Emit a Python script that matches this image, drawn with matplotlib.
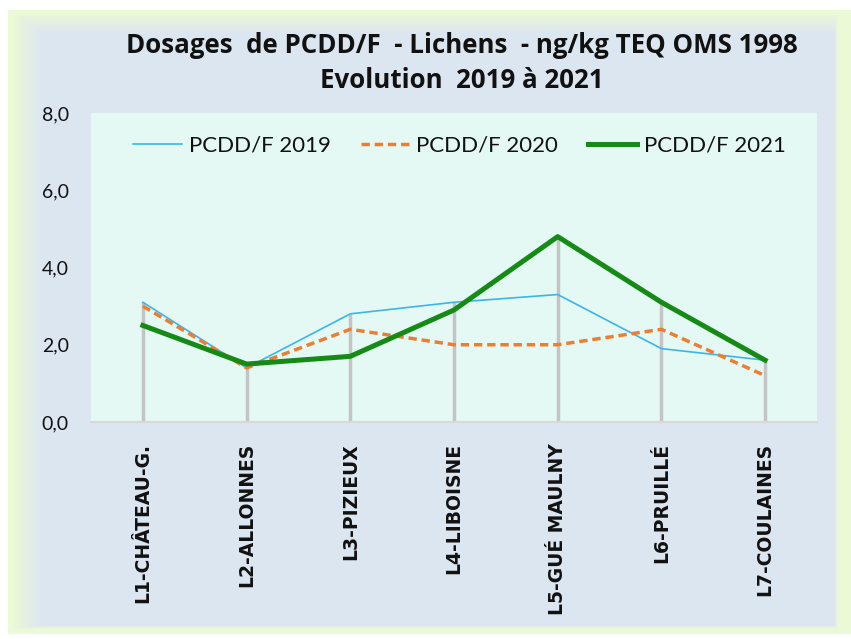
import numpy as np
import matplotlib
matplotlib.use("Agg")
import matplotlib.pyplot as plt
from matplotlib.ticker import FuncFormatter

categories = ["L1-CHÂTEAU-G.", "L2-ALLONNES", "L3-PIZIEUX", "L4-LIBOISNE",
              "L5-GUÉ MAULNY", "L6-PRUILLÉ", "L7-COULAINES"]
pcdd_2019 = [3.1, 1.4, 2.8, 3.1, 3.3, 1.9, 1.6]
pcdd_2020 = [3.0, 1.4, 2.4, 2.0, 2.0, 2.4, 1.2]
pcdd_2021 = [2.5, 1.5, 1.7, 2.9, 4.8, 3.1, 1.6]
yticks = [0, 2, 4, 6, 8]

W, H = 851, 639
fig = plt.figure(figsize=(W / 100, H / 100), dpi=100)

# background frame image
xx, yy = np.meshgrid(np.arange(W) + 0.5, np.arange(H) + 0.5)
green = np.array([0xEB, 0xFA, 0xD6]) / 255
blue = np.array([0xDC, 0xE6, 0xF1]) / 255
img = np.ones((H, W, 3))
in_green = (xx >= 8) & (yy >= 10) & (yy <= 634)
t = np.clip(np.minimum.reduce([(xx - 12) / 30, (yy - 12) / 22, (838 - xx) / 4, (629 - yy) / 4]), 0, 1)
col = green[None, None, :] * (1 - t[..., None]) + blue[None, None, :] * t[..., None]
img[in_green] = col[in_green]
bg = fig.add_axes([0, 0, 1, 1], zorder=-10)
bg.imshow(img, aspect="auto", extent=[0, W, H, 0], interpolation="bilinear")
bg.axis("off")

ax = fig.add_axes([91 / W, 1 - 422 / H, (817 - 91) / W, (422 - 113) / H])
ax.set_facecolor("#e4f9f4")
x = np.arange(len(categories))

tops = np.max(np.array([pcdd_2019, pcdd_2020, pcdd_2021]), axis=0)
ax.vlines(x, 0, tops, colors="#c4c4c4", linewidth=2.5, zorder=1)

ax.plot(x, pcdd_2019, color="#3cb4ec", linewidth=1.2, label="PCDD/F 2019", zorder=3)
ax.plot(x, pcdd_2020, color="#ed7d31", linewidth=2.5, linestyle=(0, (2.4, 1.4)), label="PCDD/F 2020", zorder=3)
ax.plot(x, pcdd_2021, color="#158a15", linewidth=3.6, label="PCDD/F 2021", zorder=4)

ax.set_xlim(-0.5, len(categories) - 0.5)
ax.set_ylim(0, 8)
ax.set_yticks(yticks)
ax.yaxis.set_major_formatter(FuncFormatter(lambda v, p: f"{v:.1f}".replace(".", ",")))
ax.set_xticks(x)
ax.set_xticklabels(categories, rotation=90, fontfamily="DejaVu Sans", fontweight="bold",
                   fontsize=13.5, color="#111111")
for s in ["top", "left", "right"]:
    ax.spines[s].set_visible(False)
ax.spines["bottom"].set_color("#d9d9d9")
ax.spines["bottom"].set_linewidth(1.5)
ax.tick_params(axis="x", length=0, pad=15)
ax.tick_params(axis="y", length=0, pad=16, labelsize=14, labelcolor="#111111")
for lab in ax.get_yticklabels():
    lab.set_fontfamily("Lato")

leg = ax.legend(loc="center", bbox_to_anchor=((459.5 - 91) / 726, 1 - (146 - 113) / (422 - 113)), ncol=3,
                frameon=False, prop={"family": "Lato", "size": 16}, handlelength=2.2,
                handletextpad=0.3, columnspacing=1.35)
for t_ in leg.get_texts():
    t_.set_color("#111111")

fig.text(462 / W, 1 - 53 / H, "Dosages  de PCDD/F  - Lichens  - ng/kg TEQ OMS 1998",
         ha="center", va="baseline", fontfamily="Open Sans", fontweight="bold", fontsize=18.6, color="#111111")
fig.text(462 / W, 1 - 88 / H, "Evolution  2019 à 2021",
         ha="center", va="baseline", fontfamily="Open Sans", fontweight="bold", fontsize=18.6, color="#111111")

fig.savefig("out.png", dpi=100)
